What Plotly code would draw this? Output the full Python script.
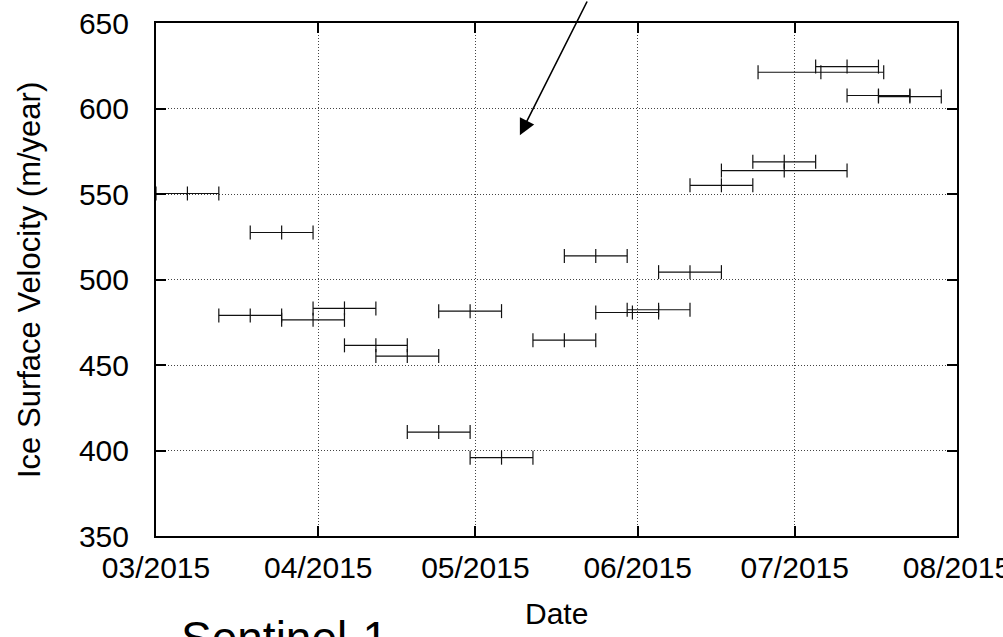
import plotly.graph_objects as go

# Data: each measurement = (start date, centre date, end date, velocity)
start_dates = ["2015-03-01", "2015-03-19", "2015-03-13", "2015-03-25", "2015-03-31",
               "2015-04-06", "2015-04-12", "2015-04-18", "2015-04-24", "2015-04-30",
               "2015-05-12", "2015-05-18", "2015-05-24", "2015-05-30", "2015-06-05",
               "2015-06-11", "2015-06-17", "2015-06-23", "2015-06-24", "2015-07-05",
               "2015-07-11", "2015-07-17"]
center_dates = ["2015-03-07", "2015-03-25", "2015-03-19", "2015-03-31", "2015-04-06",
                "2015-04-12", "2015-04-18", "2015-04-24", "2015-04-30", "2015-05-06",
                "2015-05-18", "2015-05-24", "2015-05-31", "2015-06-05", "2015-06-11",
                "2015-06-17", "2015-06-29", "2015-06-29", "2015-07-06", "2015-07-11",
                "2015-07-17", "2015-07-23"]
end_dates = ["2015-03-13", "2015-03-31", "2015-03-25", "2015-04-06", "2015-04-12",
             "2015-04-18", "2015-04-24", "2015-04-30", "2015-05-06", "2015-05-12",
             "2015-05-24", "2015-05-30", "2015-06-05", "2015-06-11", "2015-06-17",
             "2015-06-23", "2015-07-11", "2015-07-05", "2015-07-18", "2015-07-17",
             "2015-07-23", "2015-07-29"]
velocities = [550.3, 527.5, 479.0, 476.4, 483.1,
              461.5, 455.2, 410.8, 481.5, 395.8,
              464.5, 513.8, 480.7, 482.3, 504.3,
              555.1, 563.7, 568.8, 621.2, 624.5,
              607.6, 607.0]

tick_vals = ["2015-03-01", "2015-04-01", "2015-05-01", "2015-06-01", "2015-07-01", "2015-08-01"]
tick_text = ["03/2015", "04/2015", "05/2015", "06/2015", "07/2015", "08/2015"]

FONT = "Liberation Sans, Arial, Helvetica, sans-serif"

# Horizontal bars
line_x, line_y = [], []
for s, e, v in zip(start_dates, end_dates, velocities):
    line_x += [s, e, None]
    line_y += [v, v, None]

# Tick marks at start, centre and end
mark_x, mark_y = [], []
for s, c, e, v in zip(start_dates, center_dates, end_dates, velocities):
    mark_x += [s, c, e]
    mark_y += [v, v, v]

fig = go.Figure()
fig.add_trace(go.Scatter(x=line_x, y=line_y, mode="lines",
                         line=dict(color="#111111", width=1.2),
                         connectgaps=False, showlegend=False, hoverinfo="skip"))
fig.add_trace(go.Scatter(x=mark_x, y=mark_y, mode="markers",
                         marker=dict(symbol="line-ns", size=10,
                                     line=dict(width=1.2, color="#111111")),
                         showlegend=False))

axis_common = dict(
    showgrid=True, gridcolor="#444444", gridwidth=1, griddash="1px,2px",
    showline=True, linecolor="black", linewidth=2, mirror="ticks",
    ticks="inside", ticklen=10, tickwidth=2, tickcolor="black",
    tickfont=dict(family=FONT, size=30, color="black"),
    zeroline=False, ticklabeloverflow="allow",
)

fig.update_xaxes(type="date", range=["2015-03-01", "2015-08-01"],
                 tickvals=tick_vals, ticktext=tick_text,
                 ticklabelstandoff=4, **axis_common)
fig.update_yaxes(range=[350, 650], tickvals=[350, 400, 450, 500, 550, 600, 650],
                 ticklabelstandoff=19, **axis_common)

L, R, T, B = 156, 46, 23, 101
PW, PH = 1003 - L - R, 637 - T - B

fig.update_layout(
    width=1003, height=637,
    margin=dict(l=L, r=R, t=T, b=B, autoexpand=False),
    plot_bgcolor="white", paper_bgcolor="white",
    font=dict(family=FONT, color="black"),
    annotations=[
        dict(x="2015-05-09 12:00", y=584.4, xref="x", yref="y",
             ax=68, ay=-142, axref="pixel", ayref="pixel",
             text="", showarrow=True, arrowhead=2, arrowsize=2.0,
             arrowwidth=1.6, arrowcolor="black", standoff=0),
        dict(x=(29 - L) / PW, y=(T + PH - 280) / PH, xref="paper", yref="paper",
             text="Ice Surface Velocity (m/year)",
             textangle=-90, showarrow=False, font=dict(family=FONT, size=31, color="black"),
             xanchor="center", yanchor="middle"),
        dict(x=(556 - L) / PW, y=(T + PH - 614) / PH, xref="paper", yref="paper", text="Date",
             showarrow=False, font=dict(family=FONT, size=30, color="black"),
             xanchor="center", yanchor="middle"),
        dict(x=(284.5 - L) / PW, y=(T + PH - 638) / PH, xref="paper", yref="paper",
             text="Sentinel-1",
             showarrow=False, font=dict(family=FONT, size=46, color="black"),
             xanchor="center", yanchor="middle"),
    ],
)

fig.write_html("out.html", config={"displayModeBar": False},
               post_script="document.body.style.margin='0';document.body.style.overflow='hidden';")
